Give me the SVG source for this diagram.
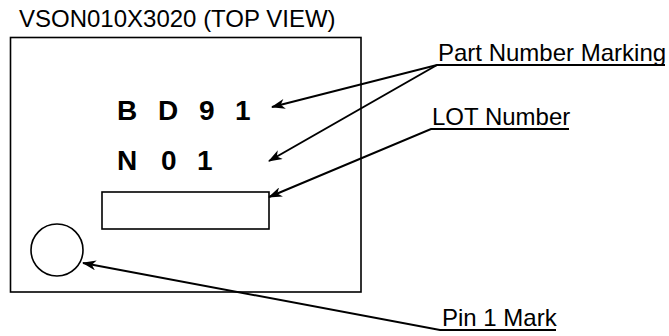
<svg xmlns="http://www.w3.org/2000/svg" width="669" height="336" viewBox="0 0 669 336">
<style>
.lbl{font-family:"Liberation Sans",Arial,sans-serif;font-size:24px;fill:#000}
.mk{font-family:"Liberation Sans",Arial,sans-serif;font-size:28px;font-weight:bold;fill:#000}
.shape{fill:none;stroke:#000;stroke-width:1.6}
.conn{fill:none;stroke:#000;stroke-width:2}
</style>
<defs>
<marker id="ah" viewBox="0 0 14 10" refX="13" refY="5" markerWidth="14" markerHeight="10" markerUnits="userSpaceOnUse" orient="auto">
<path d="M0,0 L14,5 L0,10 L4,5 z" fill="#000"/>
</marker>
</defs>
<rect width="669" height="336" fill="#fff"/>
<g id="title"><text class="lbl" x="19" y="27">VSON010X3020 (TOP VIEW)</text></g>
<g id="package"><rect class="shape" x="10.5" y="37.5" width="350.5" height="254.5"/></g>
<g id="part-number"><text class="mk" x="117 158 199 235" y="120">BD91</text></g>
<g id="lot-code"><text class="mk" x="117 161 197" y="170">N01</text></g>
<g id="lot-box"><rect class="shape" x="102" y="192" width="167" height="37"/></g>
<g id="pin1"><circle class="shape" cx="57" cy="250" r="26"/></g>
<g id="label-part"><text class="lbl" x="438" y="61">Part Number Marking</text></g>
<g id="label-lot"><text class="lbl" x="432" y="125">LOT Number</text></g>
<g id="label-pin1"><text class="lbl" x="442" y="326">Pin 1 Mark</text></g>
<g id="connectors">
<polyline class="conn" points="665,65 437,65 272,107" marker-end="url(#ah)"/>
<polyline class="conn" points="437,65 269,161" marker-end="url(#ah)"/>
<polyline class="conn" points="569,129 431,129 269,197" marker-end="url(#ah)"/>
<polyline class="conn" points="556,330 440,330 83,263" marker-end="url(#ah)"/>
</g>
</svg>
